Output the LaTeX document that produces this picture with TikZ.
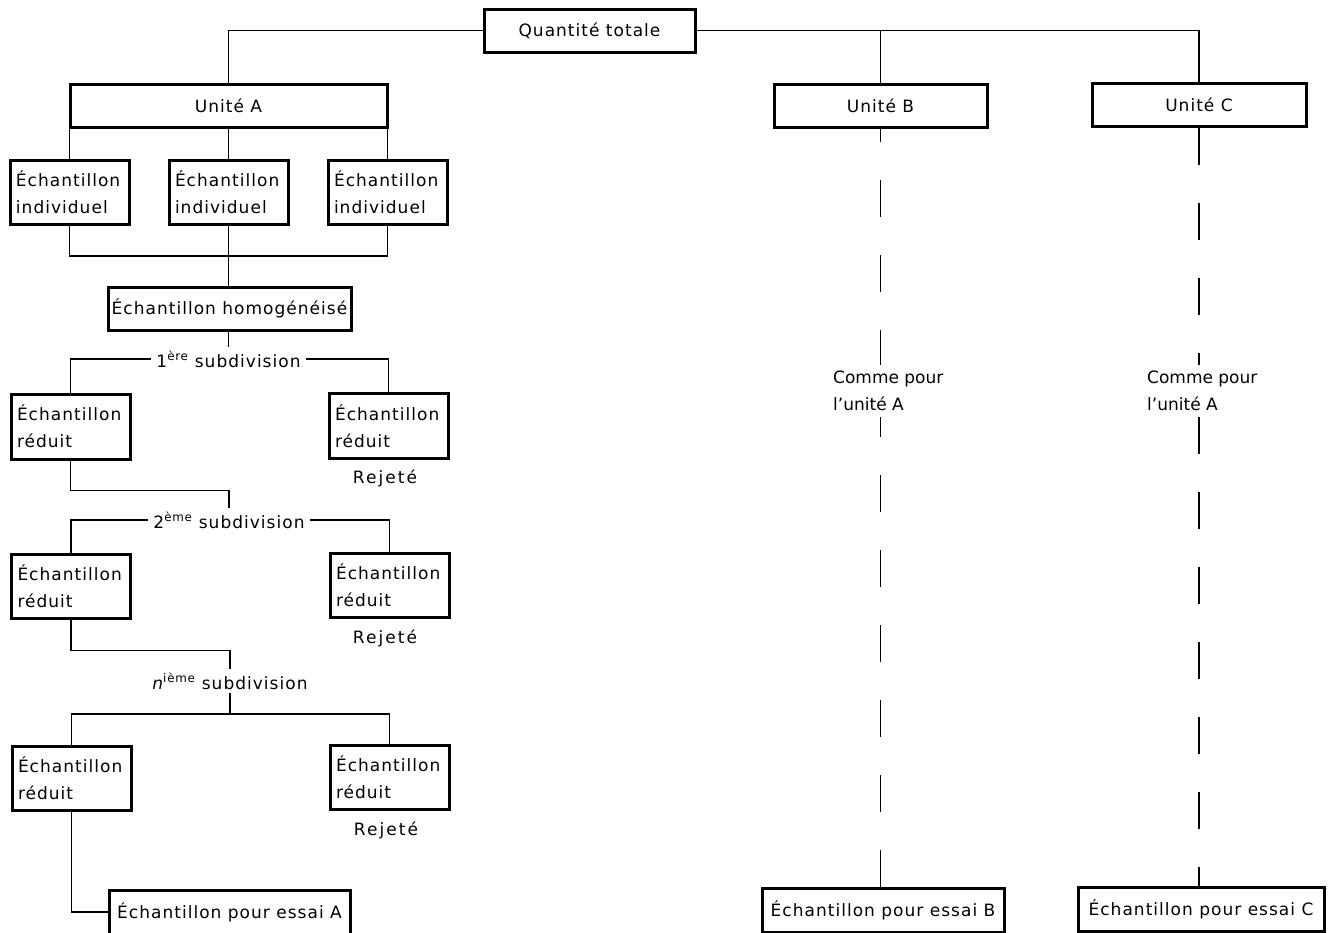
\documentclass[tikz,border=0pt]{standalone}
\usepackage{fontspec}
\setmainfont{DejaVu Sans}[LetterSpace=6]

\tikzset{
	boite/.style={draw,line width=3pt,inner sep=0pt,minimum height=43pt},
	boite2/.style={draw,line width=3pt,inner xsep=6pt,inner ysep=0pt,
		text width=107pt,align=left,minimum height=64pt},
	lien/.style={line width=1.5pt},
	tirets/.style={line width=1.5pt,dash pattern=on 37pt off 38pt},
	etape/.style={inner xsep=5pt,inner ysep=4pt},
	comme/.style={anchor=west,align=left,inner xsep=0pt,inner ysep=6pt,
		font=\fontsize{17}{27}\selectfont\addfontfeatures{LetterSpace=0}},
	rejet/.style={font=\fontsize{17}{27}\selectfont\addfontfeatures{LetterSpace=12}},
}

\begin{document}
\begin{tikzpicture}[x=1pt,y=-1pt,font=\fontsize{17}{27}\selectfont]
\useasboundingbox (0,0) rectangle (1331,932);

\node[boite,minimum width=211pt] (tot) at (589.5,30.5) {Quantité totale};
\node[boite,minimum width=317pt] (uA) at (228.5,106) {Unité A};
\node[boite,minimum width=213pt] (uB) at (880.5,106) {Unité B};
\node[boite,minimum width=214pt] (uC) at (1199,105) {Unité C};

\draw[lien] (tot.west) -| (uA.north);
\draw[lien] (tot.east) -| (uB.north);
\draw[lien] (tot.east) -| (uC.north);

\foreach \i/\x in {1/69.5,2/228.5,3/387.5}{
	\node[boite2] (ind\i) at (\x,192) {Échantillon\\individuel};
	\draw[lien] (ind\i.north |- uA.south) -- (ind\i.north);
}
\node[boite,minimum width=243pt] (hom) at (229.5,308.5) {Échantillon homogénéisé};
\draw[lien] (ind1.south) |- (ind2.south |- 0,256) -| (ind3.south);
\draw[lien] (ind2.south) -- (ind2.south |- hom.north);

\node[etape,anchor=base] (sub1) at (228.5,367) {1\textsuperscript{ère} subdivision};
\node[boite2,minimum height=65pt] (red1g) at (70.5,426.5) {Échantillon\\réduit};
\node[boite2,minimum height=65pt] (red1d) at (388.5,426) {Échantillon\\réduit};
\node[rejet] (rej1) at (385,478) {Rejeté};
\draw[lien] (sub1.north |- hom.south) -- (sub1.north);
\draw[lien] (sub1.west) -| (red1g.north);
\draw[lien] (sub1.east) -| (red1d.north);

\node[etape,anchor=base] (sub2) at (229,528) {2\textsuperscript{ème} subdivision};
\node[boite2] (red2g) at (71,586) {Échantillon\\réduit};
\node[boite2] (red2d) at (389.5,585) {Échantillon\\réduit};
\node[rejet] (rej2) at (385,638) {Rejeté};
\draw[lien] (red1g.south) -- ++(0,30) -| (sub2.north);
\draw[lien] (sub2.west) -| (red2g.north);
\draw[lien] (sub2.east) -| (red2d.north);

\node[etape,anchor=base] (subn) at (230,689) {{\itshape n}\textsuperscript{ième} subdivision};
\node[boite2] (red3g) at (71.5,778.5) {Échantillon\\réduit};
\node[boite2] (red3d) at (389.5,777) {Échantillon\\réduit};
\node[rejet] (rej3) at (386,830) {Rejeté};
\draw[lien] (red2g.south) -- ++(0,31) -| (subn.north);
\draw[lien] (subn.south) -- (subn.south |- 0,714);
\draw[lien] (red3g.north) |- (subn.south |- 0,714) -| (red3d.north);

\node[boite,minimum width=241pt,minimum height=44pt] (essA) at (229.5,912) {Échantillon pour essai A};
\draw[lien] (red3g.south) |- (essA.west);

\node[comme] (cB) at (833,391) {Comme pour\\l’unité A};
\node[boite,minimum width=242pt,minimum height=44pt] (essB) at (883,910) {Échantillon pour essai B};
\draw[tirets,dash phase=24pt] (uB.south) -- (uB.south |- cB.north);
\draw[tirets] (uB.south |- essB.north) -- (uB.south |- cB.south);

\node[comme] (cC) at (1147,391) {Comme pour\\l’unité A};
\node[boite,minimum width=246pt,minimum height=44pt] (essC) at (1201,909) {Échantillon pour essai C};
\draw[tirets] (uC.south) -- (uC.south |- cC.north);
\draw[tirets] (uC.south |- cC.south) -- (uC.south |- essC.north);
\end{tikzpicture}
\end{document}
